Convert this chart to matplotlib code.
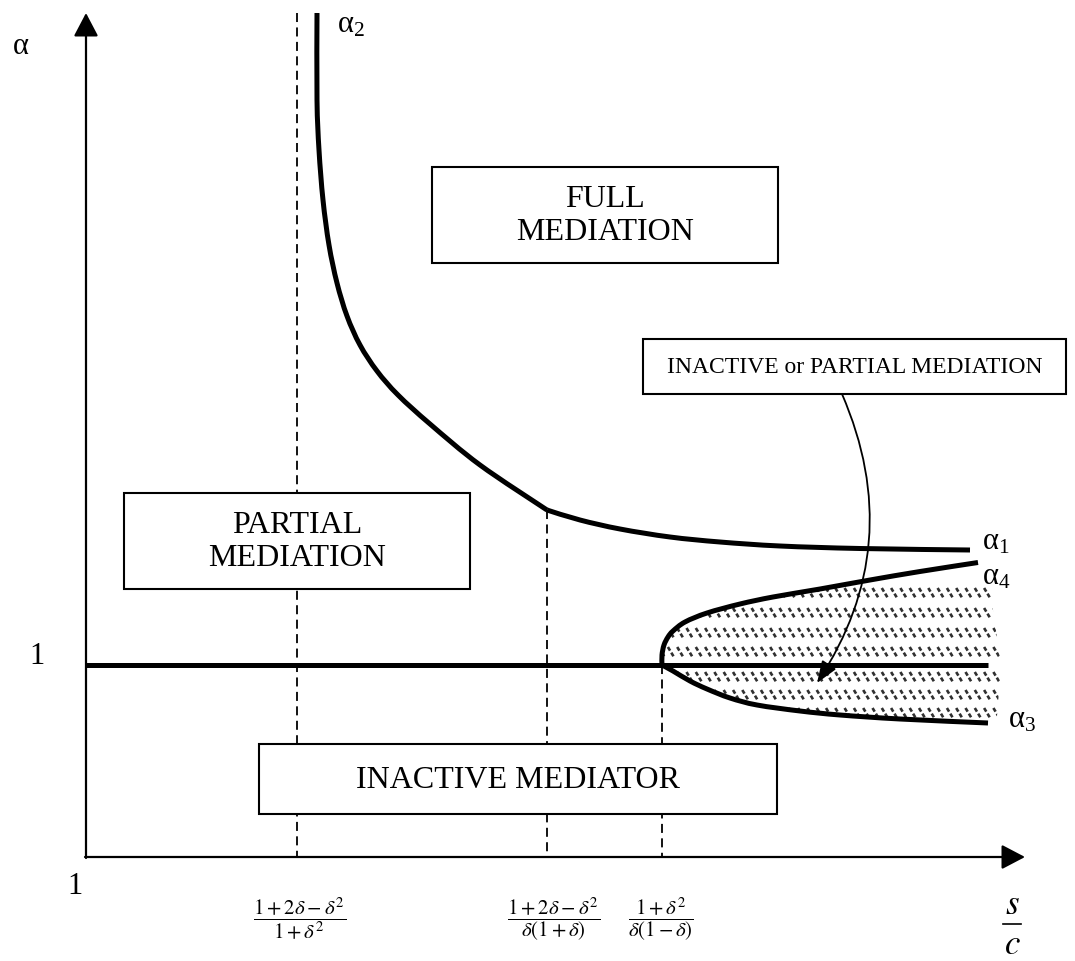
import numpy as np
import matplotlib
matplotlib.use("Agg")
import matplotlib.pyplot as plt
from matplotlib.path import Path
from matplotlib.patches import Rectangle, PathPatch
from matplotlib.collections import LineCollection

plt.rcParams['font.family'] = ['Liberation Serif', 'DejaVu Serif']
plt.rcParams['mathtext.fontset'] = 'stix'

# ---- schematic data (in picture units: x = s/c, y = alpha, y grows downward) ----
alpha2_x = [317, 317, 319, 323, 329, 337, 347, 360, 377, 398, 430, 480, 547]
alpha2_y = [13, 100, 150, 200, 245, 283, 316, 345, 371, 395, 424, 465, 510]

alpha1_x = [547, 580, 620, 670, 720, 780, 860, 970]
alpha1_y = [510, 520, 529, 537, 542, 546, 548.5, 550]

alpha4_x = [662, 662, 664, 668, 673, 685, 707, 740, 773, 820, 870, 920, 978]
alpha4_y = [665, 655, 645, 637, 631, 622, 613, 604, 597, 589, 580, 571.5, 562.5]

alpha3_x = [662, 673, 690, 707, 730, 757, 800, 840, 900, 988]
alpha3_y = [665, 671, 681, 689, 698, 705, 711, 715, 719, 723]

one_line_x = [86, 988]
one_line_y = 665

thresholds_x = [297, 547, 662]
thresholds_top = [13, 510, 665]
threshold_labels = [r'$\dfrac{1+2\delta-\delta^2}{1+\delta^2}$',
                    r'$\dfrac{1+2\delta-\delta^2}{\delta(1+\delta)}$',
                    r'$\dfrac{1+\delta^2}{\delta(1-\delta)}$']
threshold_label_x = [300, 554, 661]

region_boxes = [  # (x0, y0, x1, y1, text, fontsize)
    (432, 167, 778, 263, 'FULL\nMEDIATION', 23),
    (124, 493, 470, 589, 'PARTIAL\nMEDIATION', 23),
    (259, 744, 777, 814, 'INACTIVE MEDIATOR', 23),
    (643, 339, 1066, 394, 'INACTIVE or PARTIAL MEDIATION', 17),
]

curve_labels = [  # (x, y, base, sub)
    (337, 25, 'α', '2'),
    (982, 542, 'α', '1'),
    (982, 577, 'α', '4'),
    (1008, 720, 'α', '3'),
]

hatch_rows_y = [593, 613, 633, 652, 677, 695, 713]


def smooth_path(xs, ys):
    """Catmull-Rom through the read points, drawn as cubic Bezier segments."""
    P = np.column_stack([xs, ys]).astype(float)
    verts = [P[0]]
    codes = [Path.MOVETO]
    n = len(P)
    for i in range(n - 1):
        p0 = P[i - 1] if i > 0 else P[i]
        p1, p2 = P[i], P[i + 1]
        p3 = P[i + 2] if i + 2 < n else P[i + 1]
        c1 = p1 + (p2 - p0) / 6.0
        c2 = p2 - (p3 - p1) / 6.0
        verts += [c1, c2, p2]
        codes += [Path.CURVE4] * 3
    return Path(verts, codes)


W, H = 1075, 961
fig = plt.figure(figsize=(W / 100, H / 100), dpi=100)
ax = fig.add_axes([0, 0, 1, 1])
ax.set_xlim(0, W)
ax.set_ylim(H, 0)
ax.axis('off')

# axes with arrows
ax.annotate('', xy=(86, 13), xytext=(86, 858),
            arrowprops=dict(arrowstyle='-|>,head_length=0.4,head_width=0.21', lw=1.6,
                            color='k', mutation_scale=36, shrinkA=0, shrinkB=0))
ax.annotate('', xy=(1025, 857), xytext=(85, 857),
            arrowprops=dict(arrowstyle='-|>,head_length=0.4,head_width=0.21', lw=1.6,
                            color='k', mutation_scale=36, shrinkA=0, shrinkB=0))

# dashed thresholds
for x, top in zip(thresholds_x, thresholds_top):
    ax.plot([x, x], [top, 857], color='k', lw=1.3, ls=(0, (5, 3)), zorder=1)
for x, lab in zip(threshold_label_x, threshold_labels):
    ax.text(x, 919, lab, ha='center', va='center', fontsize=15)

# hatched region between alpha4 and alpha3
poly_x = list(alpha4_x) + [990, 1001, 997] + list(alpha3_x[::-1])
poly_y = list(alpha4_y) + [590, 665, 716] + list(alpha3_y[::-1])
clip = PathPatch(Path(np.column_stack([poly_x, poly_y])), facecolor='none', edgecolor='none')
ax.add_patch(clip)
segs = []
for ry in hatch_rows_y:
    for hx in np.arange(640, 1010, 9.3):
        segs.append([(hx, ry - 5), (hx + 6, ry + 5)])
lc = LineCollection(segs, colors='#303030', linewidths=1.9, linestyles=(0, (1.6, 0.9)), zorder=2)
ax.add_collection(lc)
lc.set_clip_path(clip)

# main curves
lw_c = 3.6
ax.plot(one_line_x, [one_line_y, one_line_y], color='k', lw=lw_c, solid_capstyle='butt', zorder=3)
for xs, ys in [(alpha2_x, alpha2_y), (alpha1_x, alpha1_y), (alpha4_x, alpha4_y), (alpha3_x, alpha3_y)]:
    ax.add_patch(PathPatch(smooth_path(xs, ys), facecolor='none', edgecolor='k', lw=lw_c,
                           capstyle='butt', joinstyle='round', zorder=3))

# boxes
for x0, y0, x1, y1, txt, fs in region_boxes:
    ax.add_patch(Rectangle((x0, y0), x1 - x0, y1 - y0, facecolor='white', edgecolor='k',
                           lw=1.5, zorder=4))
    ax.text((x0 + x1) / 2, (y0 + y1) / 2 + 1, txt, ha='center', va='center', fontsize=fs,
            linespacing=1.22, zorder=5)

# curved arrow from small box
ax.annotate('', xy=(817, 683), xytext=(842, 394),
            arrowprops=dict(arrowstyle='-|>,head_length=0.45,head_width=0.17', lw=1.3, color='k',
                            mutation_scale=30, shrinkA=0, shrinkB=0,
                            connectionstyle='arc3,rad=-0.27'), zorder=6)

# labels
for x, y, b, s in curve_labels:
    ax.text(x, y, r'$\mathregular{%s_{%s}}$' % (b, s), ha='left', va='center', fontsize=22)
ax.text(21, 47, 'α', ha='center', va='center', fontsize=22)
ax.text(37, 657, '1', ha='center', va='center', fontsize=22)
ax.text(75, 887, '1', ha='center', va='center', fontsize=22)
ax.text(1012, 905, r'$s$', ha='center', va='center', fontsize=25)
ax.text(1012, 946, r'$c$', ha='center', va='center', fontsize=25)
ax.plot([1003, 1021], [924, 924], color='k', lw=1.2)

fig.savefig('out.png', dpi=100)
